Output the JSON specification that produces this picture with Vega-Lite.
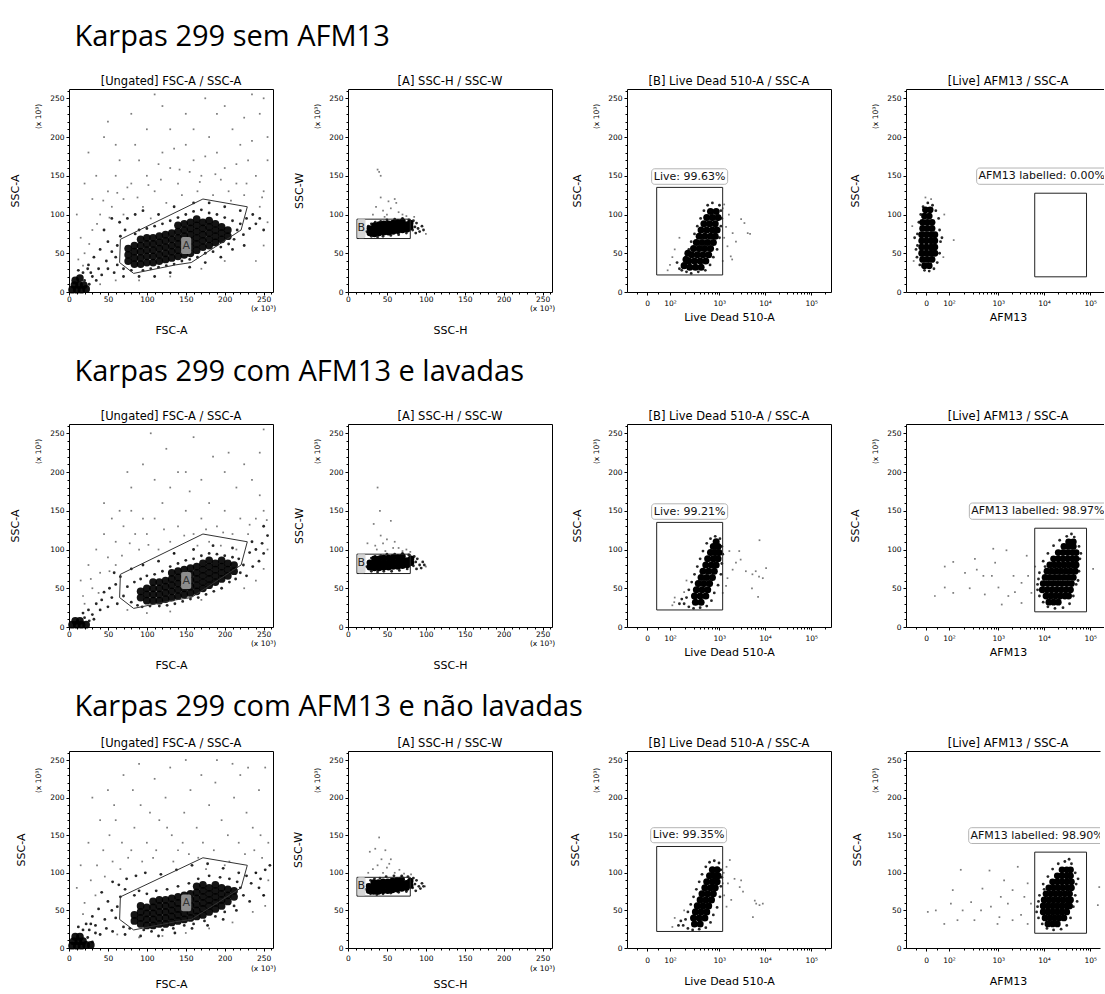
{"$schema":"https://vega.github.io/schema/vega-lite/v6.json","background":"white","padding":{"left":8,"top":23,"right":0,"bottom":0},
"config":{"view":{"stroke":"#000","strokeWidth":1},"axis":{"domain":false,"grid":false,"labelFont":"DejaVu Sans","titleFont":"DejaVu Sans","labelFontSize":7.5,"titleFontSize":11,"titleFontWeight":"normal","labelColor":"#000","titleColor":"#000","tickColor":"#000","labelFlush":false,"labelOverlap":false,"labelBound":false}},
"datasets":{
"gA":[{"x":66,"y":68,"o":1},{"x":172,"y":120,"o":2},{"x":229,"y":110,"o":3},{"x":221,"y":80,"o":4},{"x":157,"y":38,"o":5},{"x":137,"y":35,"o":6},{"x":83,"y":24,"o":7},{"x":65,"y":38,"o":8},{"x":66,"y":68,"o":9}],
"lA":[{"x1":144,"x2":157,"y1":49,"y2":71,"tx":150.5,"ty":60,"t":"A"}],
"gB":[{"x1":11.5,"x2":80,"y1":69,"y2":94}],
"lB":[{"x1":12,"x2":22.5,"y1":69.5,"y2":94.5,"tx":17,"ty":82,"t":"B"}],
"gL":[{"x1":1.717,"x2":3.118,"y1":22,"y2":135}],
"gF":[{"x1":3.82,"x2":4.92,"y1":19.6,"y2":127.5}],
"lL1":[{"x1":1.61,"x2":3.224,"y1":139,"y2":159,"tx":2.417,"ty":149,"t":"Live: 99.63%"}],
"lL2":[{"x1":1.61,"x2":3.224,"y1":139,"y2":159,"tx":2.417,"ty":149,"t":"Live: 99.21%"}],
"lL3":[{"x1":1.59,"x2":3.2,"y1":140,"y2":160,"tx":2.396,"ty":150,"t":"Live: 99.35%"}],
"lF1":[{"x1":2.587,"x2":5.6,"y1":139,"y2":160,"tx":2.625,"ty":149.5,"t":"AFM13 labelled: 0.00%"}],
"lF2":[{"x1":2.432,"x2":5.6,"y1":139,"y2":160,"tx":2.47,"ty":149.5,"t":"AFM13 labelled: 98.97%"}],
"lF3":[{"x1":2.418,"x2":5.6,"y1":139,"y2":160,"tx":2.455,"ty":149.5,"t":"AFM13 labelled: 98.90%"}],
"a1c":[{"x":76,"y":40},{"x":76,"y":48},{"x":76,"y":56},{"x":84,"y":36},{"x":84,"y":44},{"x":84,"y":52},{"x":84,"y":60},{"x":92,"y":36},{"x":92,"y":44},{"x":92,"y":52},{"x":92,"y":60},{"x":92,"y":68},{"x":100,"y":38},{"x":100,"y":46},{"x":100,"y":54},{"x":100,"y":62},{"x":100,"y":70},{"x":108,"y":38},{"x":108,"y":46},{"x":108,"y":54},{"x":108,"y":62},{"x":108,"y":70},{"x":116,"y":40},{"x":116,"y":48},{"x":116,"y":56},{"x":116,"y":64},{"x":116,"y":72},{"x":124,"y":42},{"x":124,"y":50},{"x":124,"y":58},{"x":124,"y":66},{"x":124,"y":74},{"x":132,"y":44},{"x":132,"y":52},{"x":132,"y":60},{"x":132,"y":68},{"x":132,"y":76},{"x":140,"y":46},{"x":140,"y":54},{"x":140,"y":62},{"x":140,"y":70},{"x":140,"y":78},{"x":140,"y":86},{"x":148,"y":48},{"x":148,"y":56},{"x":148,"y":64},{"x":148,"y":72},{"x":148,"y":80},{"x":148,"y":88},{"x":156,"y":50},{"x":156,"y":58},{"x":156,"y":66},{"x":156,"y":74},{"x":156,"y":82},{"x":156,"y":90},{"x":164,"y":54},{"x":164,"y":62},{"x":164,"y":70},{"x":164,"y":78},{"x":164,"y":86},{"x":164,"y":94},{"x":172,"y":58},{"x":172,"y":66},{"x":172,"y":74},{"x":172,"y":82},{"x":172,"y":90},{"x":180,"y":60},{"x":180,"y":68},{"x":180,"y":76},{"x":180,"y":84},{"x":180,"y":92},{"x":188,"y":64},{"x":188,"y":72},{"x":188,"y":80},{"x":188,"y":88},{"x":196,"y":68},{"x":196,"y":76},{"x":196,"y":84},{"x":204,"y":72},{"x":204,"y":80},{"x":4,"y":3},{"x":10,"y":3},{"x":16,"y":3},{"x":22,"y":4},{"x":7,"y":9},{"x":13,"y":9},{"x":19,"y":9},{"x":8,"y":15},{"x":14,"y":18}],
"a1m":[{"x":60,"y":45},{"x":62,"y":60},{"x":66,"y":72},{"x":70,"y":30},{"x":72,"y":80},{"x":80,"y":28},{"x":85,"y":75},{"x":90,"y":80},{"x":95,"y":28},{"x":100,"y":82},{"x":105,"y":30},{"x":110,"y":85},{"x":115,"y":32},{"x":120,"y":88},{"x":125,"y":34},{"x":130,"y":92},{"x":135,"y":36},{"x":140,"y":96},{"x":145,"y":40},{"x":150,"y":100},{"x":155,"y":42},{"x":160,"y":104},{"x":165,"y":45},{"x":170,"y":106},{"x":175,"y":50},{"x":180,"y":102},{"x":185,"y":52},{"x":190,"y":100},{"x":195,"y":58},{"x":200,"y":96},{"x":205,"y":62},{"x":210,"y":92},{"x":212,"y":68},{"x":216,"y":80},{"x":220,"y":88},{"x":224,"y":74},{"x":228,"y":95},{"x":232,"y":82},{"x":236,"y":100},{"x":240,"y":88},{"x":62,"y":35},{"x":55,"y":52},{"x":50,"y":65},{"x":48,"y":40},{"x":45,"y":80},{"x":40,"y":55},{"x":38,"y":30},{"x":32,"y":45},{"x":28,"y":25},{"x":25,"y":35},{"x":35,"y":15},{"x":42,"y":22},{"x":50,"y":30},{"x":58,"y":25},{"x":65,"y":90},{"x":75,"y":95},{"x":55,"y":95},{"x":85,"y":100},{"x":95,"y":105},{"x":115,"y":100},{"x":135,"y":110},{"x":160,"y":115},{"x":180,"y":115},{"x":200,"y":110},{"x":220,"y":105},{"x":245,"y":95},{"x":250,"y":80},{"x":225,"y":60},{"x":210,"y":55},{"x":195,"y":45},{"x":175,"y":38},{"x":155,"y":32},{"x":130,"y":25},{"x":110,"y":20},{"x":90,"y":20},{"x":70,"y":20},{"x":20,"y":15},{"x":26,"y":10},{"x":30,"y":20},{"x":18,"y":25},{"x":12,"y":28},{"x":24,"y":30}],
"a1s":[{"x":20,"y":50},{"x":30,"y":80},{"x":40,"y":100},{"x":50,"y":130},{"x":60,"y":150},{"x":70,"y":120},{"x":80,"y":140},{"x":90,"y":170},{"x":100,"y":150},{"x":110,"y":130},{"x":120,"y":180},{"x":130,"y":160},{"x":140,"y":140},{"x":150,"y":190},{"x":160,"y":170},{"x":170,"y":150},{"x":180,"y":200},{"x":190,"y":180},{"x":200,"y":160},{"x":210,"y":210},{"x":220,"y":190},{"x":230,"y":170},{"x":240,"y":150},{"x":250,"y":130},{"x":255,"y":200},{"x":245,"y":230},{"x":200,"y":240},{"x":150,"y":230},{"x":100,"y":210},{"x":60,"y":190},{"x":30,"y":120},{"x":15,"y":70},{"x":120,"y":240},{"x":175,"y":250},{"x":235,"y":255},{"x":80,"y":230},{"x":130,"y":210},{"x":190,"y":230},{"x":215,"y":140},{"x":245,"y":110},{"x":255,"y":90},{"x":250,"y":60},{"x":240,"y":40},{"x":200,"y":40},{"x":170,"y":30},{"x":130,"y":20},{"x":90,"y":15},{"x":60,"y":15},{"x":40,"y":10},{"x":70,"y":100},{"x":95,"y":110},{"x":105,"y":95},{"x":125,"y":115},{"x":145,"y":125},{"x":165,"y":130},{"x":185,"y":125},{"x":205,"y":130},{"x":225,"y":125},{"x":35,"y":150},{"x":55,"y":110},{"x":65,"y":170},{"x":85,"y":190},{"x":115,"y":165},{"x":135,"y":185},{"x":155,"y":155},{"x":175,"y":175},{"x":195,"y":145},{"x":215,"y":165},{"x":235,"y":195},{"x":255,"y":170},{"x":250,"y":250},{"x":50,"y":220},{"x":25,"y":180},{"x":10,"y":100},{"x":20,"y":140},{"x":45,"y":200},{"x":110,"y":255},{"x":160,"y":210},{"x":225,"y":225},{"x":75,"y":135},{"x":88,"y":122},{"x":102,"y":138},{"x":118,"y":145},{"x":142,"y":158},{"x":168,"y":142},{"x":188,"y":152},{"x":208,"y":118},{"x":228,"y":140},{"x":248,"y":122},{"x":62,"y":128},{"x":44,"y":118},{"x":36,"y":88},{"x":52,"y":96},{"x":26,"y":62},{"x":12,"y":42},{"x":18,"y":34}],
"a2c":[{"x":92,"y":38},{"x":92,"y":46},{"x":100,"y":34},{"x":100,"y":42},{"x":100,"y":50},{"x":108,"y":34},{"x":108,"y":42},{"x":108,"y":50},{"x":108,"y":58},{"x":116,"y":34},{"x":116,"y":42},{"x":116,"y":50},{"x":116,"y":58},{"x":124,"y":36},{"x":124,"y":44},{"x":124,"y":52},{"x":124,"y":60},{"x":132,"y":38},{"x":132,"y":46},{"x":132,"y":54},{"x":132,"y":62},{"x":132,"y":70},{"x":140,"y":40},{"x":140,"y":48},{"x":140,"y":56},{"x":140,"y":64},{"x":140,"y":72},{"x":148,"y":42},{"x":148,"y":50},{"x":148,"y":58},{"x":148,"y":66},{"x":148,"y":74},{"x":156,"y":44},{"x":156,"y":52},{"x":156,"y":60},{"x":156,"y":68},{"x":156,"y":76},{"x":164,"y":46},{"x":164,"y":54},{"x":164,"y":62},{"x":164,"y":70},{"x":164,"y":78},{"x":172,"y":50},{"x":172,"y":58},{"x":172,"y":66},{"x":172,"y":74},{"x":172,"y":82},{"x":180,"y":54},{"x":180,"y":62},{"x":180,"y":70},{"x":180,"y":78},{"x":180,"y":86},{"x":188,"y":58},{"x":188,"y":66},{"x":188,"y":74},{"x":188,"y":82},{"x":196,"y":62},{"x":196,"y":70},{"x":196,"y":78},{"x":196,"y":86},{"x":204,"y":66},{"x":204,"y":74},{"x":204,"y":82},{"x":212,"y":72},{"x":212,"y":80},{"x":4,"y":3},{"x":10,"y":3},{"x":16,"y":3},{"x":22,"y":3},{"x":8,"y":8},{"x":14,"y":8}],
"a2m":[{"x":70,"y":40},{"x":75,"y":52},{"x":80,"y":32},{"x":84,"y":58},{"x":88,"y":28},{"x":92,"y":62},{"x":100,"y":66},{"x":110,"y":68},{"x":120,"y":72},{"x":130,"y":78},{"x":140,"y":82},{"x":150,"y":86},{"x":160,"y":88},{"x":170,"y":92},{"x":180,"y":95},{"x":190,"y":94},{"x":200,"y":92},{"x":210,"y":90},{"x":218,"y":88},{"x":224,"y":80},{"x":220,"y":70},{"x":214,"y":62},{"x":206,"y":58},{"x":196,"y":50},{"x":186,"y":46},{"x":176,"y":42},{"x":166,"y":38},{"x":156,"y":36},{"x":146,"y":33},{"x":136,"y":30},{"x":126,"y":28},{"x":116,"y":27},{"x":104,"y":27},{"x":94,"y":26},{"x":62,"y":30},{"x":55,"y":38},{"x":50,"y":26},{"x":45,"y":45},{"x":40,"y":22},{"x":35,"y":30},{"x":30,"y":16},{"x":25,"y":22},{"x":232,"y":96},{"x":240,"y":100},{"x":248,"y":108},{"x":255,"y":118},{"x":250,"y":95},{"x":244,"y":85},{"x":236,"y":78},{"x":228,"y":66},{"x":60,"y":55},{"x":52,"y":50},{"x":42,"y":35},{"x":66,"y":65},{"x":58,"y":70},{"x":80,"y":75},{"x":95,"y":80},{"x":115,"y":85},{"x":135,"y":95},{"x":160,"y":100},{"x":185,"y":105},{"x":210,"y":102},{"x":235,"y":110},{"x":250,"y":130},{"x":20,"y":12},{"x":26,"y":8},{"x":32,"y":10},{"x":18,"y":18}],
"a2s":[{"x":20,"y":30},{"x":30,"y":50},{"x":40,"y":70},{"x":50,"y":90},{"x":60,"y":110},{"x":70,"y":130},{"x":80,"y":150},{"x":90,"y":100},{"x":100,"y":120},{"x":110,"y":140},{"x":120,"y":160},{"x":130,"y":110},{"x":140,"y":130},{"x":150,"y":150},{"x":160,"y":120},{"x":170,"y":140},{"x":180,"y":160},{"x":190,"y":130},{"x":200,"y":150},{"x":210,"y":120},{"x":220,"y":140},{"x":230,"y":120},{"x":240,"y":140},{"x":250,"y":150},{"x":255,"y":100},{"x":245,"y":170},{"x":235,"y":190},{"x":225,"y":210},{"x":215,"y":180},{"x":200,"y":200},{"x":185,"y":220},{"x":170,"y":190},{"x":155,"y":175},{"x":140,"y":200},{"x":125,"y":230},{"x":110,"y":190},{"x":95,"y":210},{"x":80,"y":180},{"x":65,"y":150},{"x":55,"y":140},{"x":45,"y":160},{"x":35,"y":100},{"x":25,"y":80},{"x":15,"y":60},{"x":105,"y":250},{"x":160,"y":245},{"x":205,"y":225},{"x":250,"y":255},{"x":75,"y":200},{"x":130,"y":180},{"x":180,"y":110},{"x":195,"y":105},{"x":95,"y":140},{"x":150,"y":200},{"x":245,"y":225},{"x":60,"y":80},{"x":45,"y":120},{"x":85,"y":120},{"x":115,"y":100},{"x":135,"y":95},{"x":165,"y":105},{"x":215,"y":100},{"x":240,"y":60},{"x":250,"y":75},{"x":225,"y":50},{"x":170,"y":35},{"x":130,"y":20},{"x":100,"y":18},{"x":75,"y":22},{"x":28,"y":62},{"x":38,"y":44},{"x":52,"y":72},{"x":68,"y":92},{"x":78,"y":108},{"x":102,"y":106},{"x":122,"y":126},{"x":148,"y":118},{"x":176,"y":126},{"x":198,"y":122},{"x":232,"y":132},{"x":254,"y":138},{"x":18,"y":40}],
"a3c":[{"x":84,"y":36},{"x":84,"y":44},{"x":92,"y":32},{"x":92,"y":40},{"x":92,"y":48},{"x":92,"y":56},{"x":100,"y":30},{"x":100,"y":38},{"x":100,"y":46},{"x":100,"y":54},{"x":108,"y":30},{"x":108,"y":38},{"x":108,"y":46},{"x":108,"y":54},{"x":108,"y":62},{"x":116,"y":32},{"x":116,"y":40},{"x":116,"y":48},{"x":116,"y":56},{"x":116,"y":64},{"x":124,"y":32},{"x":124,"y":40},{"x":124,"y":48},{"x":124,"y":56},{"x":124,"y":64},{"x":132,"y":34},{"x":132,"y":42},{"x":132,"y":50},{"x":132,"y":58},{"x":132,"y":66},{"x":140,"y":36},{"x":140,"y":44},{"x":140,"y":52},{"x":140,"y":60},{"x":140,"y":68},{"x":148,"y":38},{"x":148,"y":46},{"x":148,"y":54},{"x":148,"y":62},{"x":148,"y":70},{"x":156,"y":40},{"x":156,"y":48},{"x":156,"y":56},{"x":156,"y":64},{"x":156,"y":72},{"x":164,"y":42},{"x":164,"y":50},{"x":164,"y":58},{"x":164,"y":66},{"x":164,"y":74},{"x":164,"y":82},{"x":172,"y":44},{"x":172,"y":52},{"x":172,"y":60},{"x":172,"y":68},{"x":172,"y":76},{"x":172,"y":84},{"x":180,"y":48},{"x":180,"y":56},{"x":180,"y":64},{"x":180,"y":72},{"x":180,"y":80},{"x":188,"y":52},{"x":188,"y":60},{"x":188,"y":68},{"x":188,"y":76},{"x":188,"y":84},{"x":196,"y":56},{"x":196,"y":64},{"x":196,"y":72},{"x":196,"y":80},{"x":204,"y":62},{"x":204,"y":70},{"x":204,"y":78},{"x":212,"y":68},{"x":212,"y":76},{"x":4,"y":3},{"x":10,"y":3},{"x":16,"y":3},{"x":22,"y":4},{"x":28,"y":4},{"x":6,"y":9},{"x":12,"y":9},{"x":18,"y":9},{"x":8,"y":15},{"x":14,"y":15}],
"a3m":[{"x":60,"y":40},{"x":62,"y":55},{"x":66,"y":68},{"x":70,"y":28},{"x":72,"y":78},{"x":78,"y":26},{"x":84,"y":70},{"x":90,"y":76},{"x":96,"y":24},{"x":100,"y":72},{"x":106,"y":22},{"x":112,"y":76},{"x":120,"y":24},{"x":126,"y":78},{"x":134,"y":26},{"x":140,"y":82},{"x":148,"y":30},{"x":154,"y":86},{"x":160,"y":32},{"x":166,"y":92},{"x":174,"y":36},{"x":180,"y":96},{"x":188,"y":42},{"x":194,"y":94},{"x":200,"y":48},{"x":206,"y":92},{"x":212,"y":56},{"x":216,"y":88},{"x":220,"y":80},{"x":224,"y":70},{"x":228,"y":96},{"x":234,"y":86},{"x":240,"y":100},{"x":246,"y":92},{"x":252,"y":104},{"x":258,"y":110},{"x":55,"y":50},{"x":50,"y":62},{"x":46,"y":38},{"x":42,"y":74},{"x":38,"y":52},{"x":34,"y":30},{"x":30,"y":42},{"x":26,"y":24},{"x":22,"y":32},{"x":40,"y":18},{"x":48,"y":26},{"x":56,"y":22},{"x":64,"y":84},{"x":74,"y":92},{"x":56,"y":88},{"x":86,"y":96},{"x":98,"y":100},{"x":118,"y":98},{"x":138,"y":104},{"x":158,"y":110},{"x":178,"y":112},{"x":198,"y":106},{"x":218,"y":100},{"x":244,"y":80},{"x":250,"y":70},{"x":232,"y":62},{"x":215,"y":50},{"x":198,"y":38},{"x":178,"y":30},{"x":158,"y":26},{"x":136,"y":20},{"x":115,"y":16},{"x":92,"y":16},{"x":72,"y":18},{"x":24,"y":14},{"x":30,"y":8},{"x":34,"y":20},{"x":18,"y":24},{"x":12,"y":28},{"x":28,"y":32}],
"a3s":[{"x":20,"y":60},{"x":28,"y":90},{"x":36,"y":110},{"x":44,"y":130},{"x":52,"y":150},{"x":60,"y":170},{"x":68,"y":140},{"x":76,"y":120},{"x":84,"y":160},{"x":92,"y":190},{"x":100,"y":140},{"x":108,"y":120},{"x":116,"y":170},{"x":124,"y":200},{"x":132,"y":150},{"x":140,"y":130},{"x":148,"y":180},{"x":156,"y":210},{"x":164,"y":160},{"x":172,"y":140},{"x":180,"y":190},{"x":188,"y":220},{"x":196,"y":170},{"x":204,"y":150},{"x":212,"y":200},{"x":220,"y":230},{"x":228,"y":180},{"x":236,"y":160},{"x":244,"y":210},{"x":252,"y":240},{"x":256,"y":140},{"x":248,"y":120},{"x":240,"y":100},{"x":250,"y":70},{"x":256,"y":90},{"x":30,"y":200},{"x":50,"y":210},{"x":70,"y":230},{"x":90,"y":245},{"x":110,"y":225},{"x":130,"y":240},{"x":150,"y":250},{"x":170,"y":230},{"x":190,"y":250},{"x":210,"y":245},{"x":230,"y":240},{"x":15,"y":110},{"x":25,"y":140},{"x":40,"y":170},{"x":58,"y":190},{"x":82,"y":210},{"x":104,"y":180},{"x":126,"y":160},{"x":146,"y":140},{"x":166,"y":120},{"x":186,"y":130},{"x":206,"y":115},{"x":226,"y":125},{"x":246,"y":150},{"x":10,"y":80},{"x":18,"y":45},{"x":34,"y":70},{"x":46,"y":95},{"x":56,"y":115},{"x":66,"y":105},{"x":80,"y":130},{"x":94,"y":115},{"x":112,"y":130},{"x":134,"y":115},{"x":154,"y":125},{"x":176,"y":105},{"x":200,"y":110},{"x":218,"y":140},{"x":238,"y":130},{"x":62,"y":18},{"x":90,"y":14},{"x":120,"y":16},{"x":150,"y":20},{"x":180,"y":26},{"x":210,"y":34},{"x":236,"y":48},{"x":252,"y":56}],
"b1c":[{"x":28,"y":76},{"x":28,"y":82},{"x":34,"y":75},{"x":34,"y":81},{"x":34,"y":86},{"x":40,"y":76},{"x":40,"y":82},{"x":40,"y":87},{"x":46,"y":77},{"x":46,"y":83},{"x":46,"y":88},{"x":52,"y":77},{"x":52,"y":83},{"x":52,"y":88},{"x":58,"y":78},{"x":58,"y":84},{"x":58,"y":89},{"x":64,"y":79},{"x":64,"y":85},{"x":64,"y":90},{"x":70,"y":80},{"x":70,"y":86},{"x":70,"y":91},{"x":76,"y":81},{"x":76,"y":87},{"x":80,"y":84},{"x":80,"y":89}],
"b1m":[{"x":24,"y":78},{"x":26,"y":85},{"x":30,"y":72},{"x":38,"y":71},{"x":45,"y":72},{"x":55,"y":73},{"x":65,"y":74},{"x":75,"y":76},{"x":83,"y":80},{"x":86,"y":84},{"x":88,"y":89},{"x":90,"y":82},{"x":84,"y":92},{"x":78,"y":93},{"x":70,"y":95},{"x":60,"y":94},{"x":50,"y":93},{"x":42,"y":91},{"x":35,"y":90},{"x":30,"y":88},{"x":92,"y":78},{"x":95,"y":85},{"x":97,"y":80},{"x":87,"y":76}],
"b1s":[{"x":40,"y":155},{"x":42,"y":150},{"x":38,"y":158},{"x":42,"y":122},{"x":52,"y":117},{"x":60,"y":120},{"x":36,"y":110},{"x":45,"y":105},{"x":55,"y":108},{"x":65,"y":103},{"x":70,"y":100},{"x":50,"y":100},{"x":32,"y":100},{"x":75,"y":98},{"x":85,"y":97},{"x":100,"y":75},{"x":62,"y":115},{"x":47,"y":97}],
"b2c":[{"x":28,"y":77},{"x":28,"y":83},{"x":34,"y":76},{"x":34,"y":82},{"x":34,"y":88},{"x":40,"y":76},{"x":40,"y":82},{"x":40,"y":88},{"x":46,"y":77},{"x":46,"y":83},{"x":46,"y":89},{"x":52,"y":77},{"x":52,"y":83},{"x":52,"y":89},{"x":58,"y":78},{"x":58,"y":84},{"x":58,"y":90},{"x":64,"y":78},{"x":64,"y":84},{"x":64,"y":90},{"x":70,"y":79},{"x":70,"y":85},{"x":70,"y":91},{"x":76,"y":80},{"x":76,"y":86},{"x":81,"y":83},{"x":81,"y":88}],
"b2m":[{"x":24,"y":78},{"x":26,"y":84},{"x":30,"y":72},{"x":38,"y":71},{"x":46,"y":72},{"x":56,"y":72},{"x":66,"y":73},{"x":76,"y":75},{"x":84,"y":79},{"x":87,"y":84},{"x":89,"y":88},{"x":92,"y":80},{"x":85,"y":91},{"x":78,"y":93},{"x":70,"y":95},{"x":60,"y":94},{"x":50,"y":94},{"x":42,"y":92},{"x":35,"y":91},{"x":30,"y":89},{"x":94,"y":76},{"x":96,"y":84},{"x":98,"y":80},{"x":88,"y":75}],
"b2s":[{"x":38,"y":180},{"x":41,"y":150},{"x":55,"y":137},{"x":33,"y":133},{"x":42,"y":118},{"x":50,"y":113},{"x":45,"y":108},{"x":58,"y":102},{"x":37,"y":100},{"x":65,"y":102},{"x":70,"y":98},{"x":75,"y":100},{"x":35,"y":105},{"x":25,"y":108},{"x":48,"y":98},{"x":80,"y":97},{"x":100,"y":78},{"x":60,"y":110}],
"b3c":[{"x":27,"y":76},{"x":27,"y":82},{"x":33,"y":75},{"x":33,"y":81},{"x":33,"y":87},{"x":39,"y":75},{"x":39,"y":81},{"x":39,"y":87},{"x":45,"y":76},{"x":45,"y":82},{"x":45,"y":88},{"x":51,"y":76},{"x":51,"y":82},{"x":51,"y":88},{"x":57,"y":77},{"x":57,"y":83},{"x":57,"y":89},{"x":63,"y":78},{"x":63,"y":84},{"x":63,"y":90},{"x":69,"y":79},{"x":69,"y":85},{"x":69,"y":91},{"x":75,"y":80},{"x":75,"y":86},{"x":80,"y":83},{"x":80,"y":89}],
"b3m":[{"x":23,"y":78},{"x":25,"y":84},{"x":29,"y":72},{"x":37,"y":71},{"x":45,"y":72},{"x":55,"y":73},{"x":65,"y":74},{"x":75,"y":75},{"x":83,"y":80},{"x":86,"y":85},{"x":88,"y":90},{"x":91,"y":82},{"x":84,"y":93},{"x":77,"y":95},{"x":69,"y":96},{"x":59,"y":96},{"x":49,"y":95},{"x":41,"y":93},{"x":34,"y":92},{"x":29,"y":90},{"x":93,"y":79},{"x":95,"y":86},{"x":97,"y":82},{"x":87,"y":76}],
"b3s":[{"x":40,"y":147},{"x":35,"y":132},{"x":48,"y":130},{"x":28,"y":128},{"x":43,"y":118},{"x":55,"y":118},{"x":38,"y":110},{"x":50,"y":107},{"x":32,"y":105},{"x":60,"y":100},{"x":45,"y":100},{"x":66,"y":104},{"x":72,"y":99},{"x":26,"y":100},{"x":53,"y":112},{"x":81,"y":98},{"x":99,"y":82}],
"c1c":[{"x":2.3,"y":34},{"x":2.34,"y":42},{"x":2.38,"y":50},{"x":2.42,"y":32},{"x":2.54,"y":32},{"x":2.66,"y":32},{"x":2.4,"y":40},{"x":2.52,"y":40},{"x":2.64,"y":40},{"x":2.76,"y":40},{"x":2.46,"y":48},{"x":2.58,"y":48},{"x":2.7,"y":48},{"x":2.82,"y":48},{"x":2.5,"y":56},{"x":2.62,"y":56},{"x":2.74,"y":56},{"x":2.86,"y":56},{"x":2.56,"y":64},{"x":2.68,"y":64},{"x":2.8,"y":64},{"x":2.92,"y":64},{"x":2.62,"y":72},{"x":2.74,"y":72},{"x":2.86,"y":72},{"x":2.96,"y":72},{"x":2.66,"y":80},{"x":2.78,"y":80},{"x":2.9,"y":80},{"x":3.0,"y":80},{"x":2.72,"y":88},{"x":2.84,"y":88},{"x":2.96,"y":88},{"x":2.78,"y":96},{"x":2.9,"y":96},{"x":3.02,"y":96},{"x":2.86,"y":104},{"x":2.98,"y":104}],
"c1m":[{"x":2.25,"y":28},{"x":2.3,"y":35},{"x":2.33,"y":45},{"x":2.4,"y":55},{"x":2.45,"y":65},{"x":2.52,"y":75},{"x":2.58,"y":85},{"x":2.65,"y":95},{"x":2.72,"y":105},{"x":2.8,"y":112},{"x":2.9,"y":115},{"x":3.05,"y":112},{"x":3.08,"y":105},{"x":3.1,"y":95},{"x":3.08,"y":85},{"x":3.05,"y":70},{"x":3.0,"y":55},{"x":2.92,"y":45},{"x":2.85,"y":35},{"x":2.75,"y":28},{"x":2.6,"y":26},{"x":2.45,"y":24},{"x":2.35,"y":26},{"x":2.2,"y":30},{"x":2.15,"y":38}],
"c1s":[{"x":3.19,"y":84},{"x":3.33,"y":76},{"x":3.51,"y":94},{"x":3.58,"y":89},{"x":3.65,"y":76},{"x":3.29,"y":46},{"x":3.32,"y":42},{"x":3.22,"y":59},{"x":3.15,"y":70},{"x":3.25,"y":100},{"x":3.12,"y":108},{"x":3.15,"y":113},{"x":3.7,"y":75},{"x":3.4,"y":65},{"x":2.0,"y":35},{"x":2.05,"y":45},{"x":1.95,"y":28},{"x":2.1,"y":55},{"x":2.2,"y":70},{"x":3.12,"y":40}],
"c2c":[{"x":2.54,"y":32},{"x":2.66,"y":32},{"x":2.52,"y":40},{"x":2.64,"y":40},{"x":2.76,"y":40},{"x":2.56,"y":48},{"x":2.68,"y":48},{"x":2.8,"y":48},{"x":2.6,"y":56},{"x":2.72,"y":56},{"x":2.84,"y":56},{"x":2.66,"y":64},{"x":2.78,"y":64},{"x":2.9,"y":64},{"x":2.7,"y":72},{"x":2.82,"y":72},{"x":2.94,"y":72},{"x":2.76,"y":80},{"x":2.88,"y":80},{"x":2.98,"y":80},{"x":2.8,"y":88},{"x":2.92,"y":88},{"x":3.02,"y":88},{"x":2.86,"y":96},{"x":2.96,"y":96},{"x":3.04,"y":96},{"x":2.92,"y":104},{"x":3.02,"y":104},{"x":2.98,"y":110}],
"c2m":[{"x":2.3,"y":30},{"x":2.35,"y":38},{"x":2.4,"y":48},{"x":2.46,"y":58},{"x":2.52,"y":68},{"x":2.58,"y":78},{"x":2.64,"y":88},{"x":2.7,"y":98},{"x":2.78,"y":108},{"x":2.86,"y":114},{"x":2.96,"y":117},{"x":3.06,"y":114},{"x":3.1,"y":104},{"x":3.12,"y":94},{"x":3.1,"y":82},{"x":3.08,"y":68},{"x":3.02,"y":54},{"x":2.94,"y":44},{"x":2.88,"y":34},{"x":2.78,"y":27},{"x":2.64,"y":25},{"x":2.5,"y":24},{"x":2.4,"y":26},{"x":2.25,"y":36},{"x":2.2,"y":30}],
"c2s":[{"x":3.26,"y":98},{"x":3.47,"y":98},{"x":3.5,"y":87},{"x":3.61,"y":72},{"x":3.75,"y":68},{"x":3.82,"y":72},{"x":3.89,"y":65},{"x":3.97,"y":63},{"x":4.04,"y":76},{"x":3.74,"y":50},{"x":3.87,"y":39},{"x":3.9,"y":112},{"x":3.33,"y":74},{"x":3.4,"y":83},{"x":3.22,"y":63},{"x":3.19,"y":53},{"x":3.12,"y":44},{"x":2.09,"y":32},{"x":2.05,"y":28},{"x":2.3,"y":45},{"x":2.35,"y":60},{"x":2.1,"y":38}],
"c3c":[{"x":2.52,"y":32},{"x":2.64,"y":32},{"x":2.5,"y":40},{"x":2.62,"y":40},{"x":2.74,"y":40},{"x":2.54,"y":48},{"x":2.66,"y":48},{"x":2.78,"y":48},{"x":2.58,"y":56},{"x":2.7,"y":56},{"x":2.82,"y":56},{"x":2.64,"y":64},{"x":2.76,"y":64},{"x":2.88,"y":64},{"x":2.68,"y":72},{"x":2.8,"y":72},{"x":2.92,"y":72},{"x":2.74,"y":80},{"x":2.86,"y":80},{"x":2.96,"y":80},{"x":2.78,"y":88},{"x":2.9,"y":88},{"x":3.0,"y":88},{"x":2.84,"y":96},{"x":2.94,"y":96},{"x":3.02,"y":96},{"x":2.9,"y":104},{"x":3.0,"y":104}],
"c3m":[{"x":2.28,"y":30},{"x":2.33,"y":38},{"x":2.38,"y":48},{"x":2.44,"y":58},{"x":2.5,"y":68},{"x":2.56,"y":78},{"x":2.62,"y":88},{"x":2.68,"y":98},{"x":2.76,"y":108},{"x":2.84,"y":114},{"x":2.94,"y":116},{"x":3.04,"y":113},{"x":3.08,"y":104},{"x":3.1,"y":94},{"x":3.08,"y":82},{"x":3.06,"y":68},{"x":3.0,"y":54},{"x":2.92,"y":44},{"x":2.86,"y":34},{"x":2.76,"y":27},{"x":2.62,"y":25},{"x":2.48,"y":24},{"x":2.38,"y":26},{"x":2.23,"y":36},{"x":2.18,"y":30}],
"c3s":[{"x":3.2,"y":108},{"x":3.27,"y":117},{"x":3.37,"y":92},{"x":3.48,"y":81},{"x":3.55,"y":75},{"x":3.23,"y":86},{"x":3.2,"y":55},{"x":3.8,"y":63},{"x":3.83,"y":59},{"x":3.9,"y":57},{"x":3.97,"y":59},{"x":3.76,"y":41},{"x":3.51,"y":90},{"x":3.12,"y":86},{"x":3.15,"y":70},{"x":3.3,"y":64},{"x":2.05,"y":28},{"x":2.1,"y":40},{"x":2.3,"y":50},{"x":3.14,"y":100}],
"d1c":[{"x":1.48,"y":34},{"x":1.58,"y":34},{"x":1.44,"y":42},{"x":1.54,"y":42},{"x":1.64,"y":42},{"x":1.42,"y":50},{"x":1.52,"y":50},{"x":1.62,"y":50},{"x":1.7,"y":50},{"x":1.42,"y":58},{"x":1.52,"y":58},{"x":1.62,"y":58},{"x":1.7,"y":58},{"x":1.42,"y":66},{"x":1.52,"y":66},{"x":1.62,"y":66},{"x":1.7,"y":66},{"x":1.42,"y":74},{"x":1.52,"y":74},{"x":1.62,"y":74},{"x":1.7,"y":74},{"x":1.44,"y":82},{"x":1.54,"y":82},{"x":1.64,"y":82},{"x":1.44,"y":90},{"x":1.54,"y":90},{"x":1.64,"y":90},{"x":1.48,"y":98},{"x":1.58,"y":98},{"x":1.5,"y":106},{"x":1.6,"y":106}],
"d1m":[{"x":1.32,"y":45},{"x":1.33,"y":60},{"x":1.33,"y":75},{"x":1.36,"y":90},{"x":1.4,"y":100},{"x":1.45,"y":110},{"x":1.55,"y":115},{"x":1.65,"y":112},{"x":1.72,"y":105},{"x":1.78,"y":95},{"x":1.8,"y":80},{"x":1.82,"y":65},{"x":1.8,"y":50},{"x":1.75,"y":38},{"x":1.68,"y":30},{"x":1.58,"y":27},{"x":1.48,"y":28},{"x":1.38,"y":35},{"x":1.3,"y":55},{"x":1.85,"y":70},{"x":1.27,"y":70}],
"d1s":[{"x":2.1,"y":67},{"x":1.9,"y":100},{"x":1.25,"y":40},{"x":1.22,"y":85},{"x":1.88,"y":45},{"x":1.5,"y":122},{"x":1.62,"y":120}],
"d2c":[{"x":4.12,"y":32},{"x":4.22,"y":32},{"x":4.32,"y":32},{"x":4.06,"y":40},{"x":4.16,"y":40},{"x":4.26,"y":40},{"x":4.36,"y":40},{"x":4.46,"y":40},{"x":4.54,"y":40},{"x":3.98,"y":48},{"x":4.08,"y":48},{"x":4.18,"y":48},{"x":4.28,"y":48},{"x":4.38,"y":48},{"x":4.48,"y":48},{"x":4.58,"y":48},{"x":4.0,"y":56},{"x":4.1,"y":56},{"x":4.2,"y":56},{"x":4.3,"y":56},{"x":4.4,"y":56},{"x":4.5,"y":56},{"x":4.6,"y":56},{"x":4.04,"y":64},{"x":4.14,"y":64},{"x":4.24,"y":64},{"x":4.34,"y":64},{"x":4.44,"y":64},{"x":4.54,"y":64},{"x":4.64,"y":64},{"x":4.08,"y":72},{"x":4.18,"y":72},{"x":4.28,"y":72},{"x":4.38,"y":72},{"x":4.48,"y":72},{"x":4.58,"y":72},{"x":4.68,"y":72},{"x":4.14,"y":80},{"x":4.24,"y":80},{"x":4.34,"y":80},{"x":4.44,"y":80},{"x":4.54,"y":80},{"x":4.64,"y":80},{"x":4.7,"y":80},{"x":4.22,"y":88},{"x":4.32,"y":88},{"x":4.42,"y":88},{"x":4.52,"y":88},{"x":4.62,"y":88},{"x":4.7,"y":88},{"x":4.32,"y":96},{"x":4.42,"y":96},{"x":4.52,"y":96},{"x":4.62,"y":96},{"x":4.7,"y":96},{"x":4.44,"y":104},{"x":4.54,"y":104},{"x":4.64,"y":104},{"x":4.54,"y":110},{"x":4.64,"y":110}],
"d2m":[{"x":3.92,"y":40},{"x":3.88,"y":55},{"x":3.92,"y":70},{"x":4.0,"y":85},{"x":4.1,"y":95},{"x":4.22,"y":105},{"x":4.35,"y":112},{"x":4.5,"y":117},{"x":4.66,"y":116},{"x":4.76,"y":104},{"x":4.78,"y":88},{"x":4.76,"y":72},{"x":4.7,"y":55},{"x":4.64,"y":40},{"x":4.56,"y":30},{"x":4.42,"y":25},{"x":4.25,"y":24},{"x":4.1,"y":26},{"x":4.0,"y":32},{"x":3.88,"y":48},{"x":3.9,"y":62},{"x":4.8,"y":95},{"x":4.6,"y":120},{"x":4.04,"y":78},{"x":4.74,"y":60}],
"d2s":[{"x":1.7,"y":40},{"x":1.91,"y":78},{"x":2.09,"y":84},{"x":1.91,"y":51},{"x":2.09,"y":44},{"x":2.34,"y":70},{"x":2.55,"y":88},{"x":2.59,"y":74},{"x":2.73,"y":66},{"x":2.94,"y":101},{"x":2.98,"y":83},{"x":3.05,"y":51},{"x":3.22,"y":99},{"x":3.26,"y":40},{"x":3.37,"y":66},{"x":3.4,"y":45},{"x":3.54,"y":57},{"x":3.65,"y":92},{"x":3.68,"y":66},{"x":3.75,"y":44},{"x":3.54,"y":31},{"x":3.83,"y":78},{"x":3.12,"y":29},{"x":2.76,"y":42},{"x":2.44,"y":50},{"x":2.91,"y":66},{"x":5.06,"y":75}],
"d3c":[{"x":4.1,"y":32},{"x":4.2,"y":32},{"x":4.3,"y":32},{"x":4.04,"y":40},{"x":4.14,"y":40},{"x":4.24,"y":40},{"x":4.34,"y":40},{"x":4.44,"y":40},{"x":4.0,"y":48},{"x":4.1,"y":48},{"x":4.2,"y":48},{"x":4.3,"y":48},{"x":4.4,"y":48},{"x":4.5,"y":48},{"x":4.0,"y":56},{"x":4.1,"y":56},{"x":4.2,"y":56},{"x":4.3,"y":56},{"x":4.4,"y":56},{"x":4.5,"y":56},{"x":4.56,"y":56},{"x":4.02,"y":64},{"x":4.12,"y":64},{"x":4.22,"y":64},{"x":4.32,"y":64},{"x":4.42,"y":64},{"x":4.52,"y":64},{"x":4.58,"y":64},{"x":4.06,"y":72},{"x":4.16,"y":72},{"x":4.26,"y":72},{"x":4.36,"y":72},{"x":4.46,"y":72},{"x":4.56,"y":72},{"x":4.12,"y":80},{"x":4.22,"y":80},{"x":4.32,"y":80},{"x":4.42,"y":80},{"x":4.52,"y":80},{"x":4.6,"y":80},{"x":4.2,"y":88},{"x":4.3,"y":88},{"x":4.4,"y":88},{"x":4.5,"y":88},{"x":4.6,"y":88},{"x":4.3,"y":96},{"x":4.4,"y":96},{"x":4.5,"y":96},{"x":4.58,"y":96},{"x":4.4,"y":104},{"x":4.5,"y":104},{"x":4.58,"y":104}],
"d3m":[{"x":3.9,"y":40},{"x":3.88,"y":55},{"x":3.92,"y":70},{"x":4.0,"y":85},{"x":4.1,"y":95},{"x":4.2,"y":105},{"x":4.32,"y":112},{"x":4.46,"y":115},{"x":4.6,"y":112},{"x":4.68,"y":100},{"x":4.7,"y":85},{"x":4.68,"y":70},{"x":4.64,"y":55},{"x":4.58,"y":40},{"x":4.5,"y":30},{"x":4.38,"y":25},{"x":4.22,"y":24},{"x":4.08,"y":26},{"x":3.98,"y":32},{"x":3.86,"y":48},{"x":3.9,"y":62},{"x":4.74,"y":92},{"x":4.55,"y":118},{"x":4.02,"y":78},{"x":4.72,"y":62}],
"d3s":[{"x":1.55,"y":48},{"x":1.72,"y":50},{"x":1.9,"y":32},{"x":2.04,"y":59},{"x":2.25,"y":104},{"x":2.08,"y":77},{"x":2.29,"y":50},{"x":2.47,"y":61},{"x":2.54,"y":37},{"x":2.71,"y":79},{"x":2.86,"y":103},{"x":2.89,"y":55},{"x":3.03,"y":32},{"x":3.07,"y":41},{"x":3.17,"y":90},{"x":3.25,"y":59},{"x":3.35,"y":77},{"x":3.46,"y":108},{"x":3.53,"y":44},{"x":3.6,"y":68},{"x":3.67,"y":86},{"x":3.74,"y":59},{"x":3.67,"y":32},{"x":3.1,"y":68},{"x":2.68,"y":50},{"x":3.35,"y":37},{"x":2.18,"y":37},{"x":5.16,"y":57},{"x":5.19,"y":81}]
},
"vconcat":[
{"title":{"text":"Karpas 299 sem AFM13","anchor":"start","font":"Open Sans","fontSize":29,"fontWeight":"normal","color":"#000","offset":-6,"dx":66,"baseline":"bottom"},"bounds":"flush","spacing":75,
"hconcat":[
{"width":204,"height":203,"title":{"text":"[Ungated] FSC-A / SSC-A","font":"DejaVu Sans","fontSize":11.5,"fontWeight":"normal","color":"#000","offset":-9,"baseline":"bottom","frame":"group"},
"layer":[
{"data":{"name":"a1s"},"mark":{"type":"square","size":3,"color":"#444"},"encoding":{"x":{"field":"x","type":"quantitative","scale":{"domain":[0,262],"nice":false,"zero":false},"axis":{"orient":"bottom","values":[0,50,100,150,200,250],"tickSize":3,"labelPadding":0,"title":"FSC-A","titleY":38,"titleBaseline":"middle"}},"y":{"field":"y","type":"quantitative","scale":{"domain":[0,262],"nice":false,"zero":false},"axis":{"orient":"left","values":[0,50,100,150,200,250],"tickSize":3,"labelPadding":2,"title":"SSC-A","titleX":-54,"titleY":101.5,"titleAngle":270,"titleAlign":"center","titleBaseline":"middle"}}}},
{"data":{"name":"a1m"},"mark":{"type":"circle","size":8,"color":"#000","opacity":0.85},"encoding":{"x":{"field":"x","type":"quantitative","axis":null},"y":{"field":"y","type":"quantitative","axis":null}}},
{"data":{"name":"a1c"},"mark":{"type":"circle","size":60,"color":"#000","opacity":0.92},"encoding":{"x":{"field":"x","type":"quantitative","axis":null},"y":{"field":"y","type":"quantitative","axis":null}}},
{"data":{"name":"gA"},"mark":{"type":"line","color":"#333","strokeWidth":1},"encoding":{"x":{"field":"x","type":"quantitative","axis":{"orient":"bottom","values":[10,20,30,40,60,70,80,90,110,120,130,140,160,170,180,190,210,220,230,240,260],"tickSize":2,"labels":false,"title":"(x 10³)","titleX":194,"titleY":16,"titleAlign":"center","titleBaseline":"middle","titleFontSize":7.5}},"y":{"field":"y","type":"quantitative","axis":{"orient":"left","values":[10,20,30,40,60,70,80,90,110,120,130,140,160,170,180,190,210,220,230,240,260],"tickSize":2,"labels":false,"title":"(x 10³)","titleX":-31,"titleY":27,"titleAngle":270,"titleAlign":"center","titleBaseline":"middle","titleFontSize":7.5}},"order":{"field":"o","type":"quantitative"}}},
{"data":{"name":"lA"},"mark":{"type":"rect","color":"#9a9a9a","opacity":0.9,"cornerRadius":2},"encoding":{"x":{"field":"x1","type":"quantitative","axis":null},"x2":{"field":"x2"},"y":{"field":"y1","type":"quantitative","axis":null},"y2":{"field":"y2"}}},
{"data":{"name":"lA"},"mark":{"type":"text","font":"DejaVu Sans","fontSize":11,"color":"#333","baseline":"middle"},"encoding":{"x":{"field":"tx","type":"quantitative","axis":null},"y":{"field":"ty","type":"quantitative","axis":null},"text":{"field":"t"}}}
],"resolve":{"axis":{"x":"independent","y":"independent"}}},
{"width":204,"height":203,"title":{"text":"[A] SSC-H / SSC-W","font":"DejaVu Sans","fontSize":11.5,"fontWeight":"normal","color":"#000","offset":-9,"baseline":"bottom","frame":"group"},
"layer":[
{"data":{"name":"b1s"},"mark":{"type":"square","size":3,"color":"#444"},"encoding":{"x":{"field":"x","type":"quantitative","scale":{"domain":[0,262],"nice":false,"zero":false},"axis":{"orient":"bottom","values":[0,50,100,150,200,250],"tickSize":3,"labelPadding":0,"title":"SSC-H","titleY":38,"titleBaseline":"middle"}},"y":{"field":"y","type":"quantitative","scale":{"domain":[0,262],"nice":false,"zero":false},"axis":{"orient":"left","values":[0,50,100,150,200,250],"tickSize":3,"labelPadding":2,"title":"SSC-W","titleX":-49,"titleY":101.5,"titleAngle":270,"titleAlign":"center","titleBaseline":"middle"}}}},
{"data":{"name":"b1m"},"mark":{"type":"circle","size":8,"color":"#000","opacity":0.85},"encoding":{"x":{"field":"x","type":"quantitative","axis":null},"y":{"field":"y","type":"quantitative","axis":null}}},
{"data":{"name":"b1c"},"mark":{"type":"circle","size":42,"color":"#000","opacity":1},"encoding":{"x":{"field":"x","type":"quantitative","axis":null},"y":{"field":"y","type":"quantitative","axis":null}}},
{"data":{"name":"gB"},"mark":{"type":"rect","fillOpacity":0,"stroke":"#222","strokeWidth":1},"encoding":{"x":{"field":"x1","type":"quantitative","axis":{"orient":"bottom","values":[10,20,30,40,60,70,80,90,110,120,130,140,160,170,180,190,210,220,230,240,260],"tickSize":2,"labels":false,"title":"(x 10³)","titleX":194,"titleY":16,"titleAlign":"center","titleBaseline":"middle","titleFontSize":7.5}},"x2":{"field":"x2"},"y":{"field":"y1","type":"quantitative","axis":{"orient":"left","values":[10,20,30,40,60,70,80,90,110,120,130,140,160,170,180,190,210,220,230,240,260],"tickSize":2,"labels":false,"title":"(x 10³)","titleX":-31,"titleY":27,"titleAngle":270,"titleAlign":"center","titleBaseline":"middle","titleFontSize":7.5}},"y2":{"field":"y2"}}},
{"data":{"name":"lB"},"mark":{"type":"rect","color":"#cfcfcf","opacity":0.85,"cornerRadius":2},"encoding":{"x":{"field":"x1","type":"quantitative","axis":null},"x2":{"field":"x2"},"y":{"field":"y1","type":"quantitative","axis":null},"y2":{"field":"y2"}}},
{"data":{"name":"lB"},"mark":{"type":"text","font":"DejaVu Sans","fontSize":11,"color":"#222","baseline":"middle"},"encoding":{"x":{"field":"tx","type":"quantitative","axis":null},"y":{"field":"ty","type":"quantitative","axis":null},"text":{"field":"t"}}}
],"resolve":{"axis":{"x":"independent","y":"independent"}}},
{"width":204,"height":203,"title":{"text":"[B] Live Dead 510-A / SSC-A","font":"DejaVu Sans","fontSize":11.5,"fontWeight":"normal","color":"#000","offset":-9,"baseline":"bottom","frame":"group"},
"layer":[
{"data":{"name":"c1s"},"mark":{"type":"square","size":3,"color":"#444"},"encoding":{"x":{"field":"x","type":"quantitative","scale":{"domain":[1.087,5.418],"nice":false,"zero":false},"axis":{"orient":"bottom","values":[1.515,2,3.047,4.017,5],"labelExpr":"datum.value < 1.8 ? '0' : datum.value < 2.5 ? '10²' : datum.value < 3.5 ? '10³' : datum.value < 4.5 ? '10⁴' : '10⁵'","tickSize":3,"labelPadding":4,"title":"Live Dead 510-A","titleY":25,"titleBaseline":"middle"}},"y":{"field":"y","type":"quantitative","scale":{"domain":[0,262],"nice":false,"zero":false},"axis":{"orient":"left","values":[0,50,100,150,200,250],"tickSize":3,"labelPadding":2,"title":"SSC-A","titleX":-50,"titleY":101.5,"titleAngle":270,"titleAlign":"center","titleBaseline":"middle"}}}},
{"data":{"name":"c1m"},"mark":{"type":"circle","size":8,"color":"#000","opacity":0.85},"encoding":{"x":{"field":"x","type":"quantitative","axis":null},"y":{"field":"y","type":"quantitative","axis":null}}},
{"data":{"name":"c1c"},"mark":{"type":"circle","size":50,"color":"#000","opacity":1},"encoding":{"x":{"field":"x","type":"quantitative","axis":null},"y":{"field":"y","type":"quantitative","axis":null}}},
{"data":{"name":"gL"},"mark":{"type":"rect","fillOpacity":0,"stroke":"#222","strokeWidth":1},"encoding":{"x":{"field":"x1","type":"quantitative","axis":{"orient":"bottom","values":[1.293,1.752,2.315,2.499,2.63,2.732,2.815,2.885,2.946,2.999,3.339,3.51,3.631,3.725,3.802,3.867,3.923,3.972,4.313,4.486,4.609,4.704,4.782,4.848,4.905,4.955,5.296],"tickSize":2,"labels":false,"title":null}},"x2":{"field":"x2"},"y":{"field":"y1","type":"quantitative","axis":{"orient":"left","values":[10,20,30,40,60,70,80,90,110,120,130,140,160,170,180,190,210,220,230,240,260],"tickSize":2,"labels":false,"title":"(x 10³)","titleX":-31,"titleY":27,"titleAngle":270,"titleAlign":"center","titleBaseline":"middle","titleFontSize":7.5}},"y2":{"field":"y2"}}},
{"data":{"name":"lL1"},"mark":{"type":"rect","fill":"#fff","stroke":"#b4b4b4","strokeWidth":1,"cornerRadius":3},"encoding":{"x":{"field":"x1","type":"quantitative","axis":null},"x2":{"field":"x2"},"y":{"field":"y1","type":"quantitative","axis":null},"y2":{"field":"y2"}}},
{"data":{"name":"lL1"},"mark":{"type":"text","font":"DejaVu Sans","fontSize":11,"color":"#111","baseline":"middle"},"encoding":{"x":{"field":"tx","type":"quantitative","axis":null},"y":{"field":"ty","type":"quantitative","axis":null},"text":{"field":"t"}}}
],"resolve":{"axis":{"x":"independent","y":"independent"}}},
{"width":198,"height":203,"view":{"stroke":null},"title":{"text":"[Live] AFM13 / SSC-A","font":"DejaVu Sans","fontSize":11.5,"fontWeight":"normal","color":"#000","offset":-9,"baseline":"bottom","frame":"group","dx":3},
"layer":[
{"data":{"name":"d1s"},"mark":{"type":"square","size":3,"color":"#444"},"encoding":{"x":{"field":"x","type":"quantitative","scale":{"domain":[1.087,5.291],"nice":false,"zero":false},"axis":{"orient":"bottom","domain":true,"domainColor":"#000","values":[1.515,2,3.047,4.017,5],"labelExpr":"datum.value < 1.8 ? '0' : datum.value < 2.5 ? '10²' : datum.value < 3.5 ? '10³' : datum.value < 4.5 ? '10⁴' : '10⁵'","tickSize":3,"labelPadding":4,"title":"AFM13","titleX":102,"titleY":25,"titleBaseline":"middle"}},"y":{"field":"y","type":"quantitative","scale":{"domain":[0,262],"nice":false,"zero":false},"axis":{"orient":"left","domain":true,"domainColor":"#000","values":[0,50,100,150,200,250],"tickSize":3,"labelPadding":2,"title":"SSC-A","titleX":-51,"titleY":101.5,"titleAngle":270,"titleAlign":"center","titleBaseline":"middle"}}}},
{"data":{"name":"d1m"},"mark":{"type":"circle","size":8,"color":"#000","opacity":0.85},"encoding":{"x":{"field":"x","type":"quantitative","axis":{"orient":"top","domain":true,"domainColor":"#000","ticks":false,"labels":false,"title":null}},"y":{"field":"y","type":"quantitative","axis":null}}},
{"data":{"name":"d1c"},"mark":{"type":"circle","size":46,"color":"#000","opacity":1},"encoding":{"x":{"field":"x","type":"quantitative","axis":null},"y":{"field":"y","type":"quantitative","axis":null}}},
{"data":{"name":"gF"},"mark":{"type":"rect","fillOpacity":0,"stroke":"#222","strokeWidth":1},"encoding":{"x":{"field":"x1","type":"quantitative","axis":{"orient":"bottom","values":[1.293,1.752,2.315,2.499,2.63,2.732,2.815,2.885,2.946,2.999,3.339,3.51,3.631,3.725,3.802,3.867,3.923,3.972,4.313,4.486,4.609,4.704,4.782,4.848,4.905,4.955],"tickSize":2,"labels":false,"title":null}},"x2":{"field":"x2"},"y":{"field":"y1","type":"quantitative","axis":{"orient":"left","values":[10,20,30,40,60,70,80,90,110,120,130,140,160,170,180,190,210,220,230,240,260],"tickSize":2,"labels":false,"title":"(x 10³)","titleX":-31,"titleY":27,"titleAngle":270,"titleAlign":"center","titleBaseline":"middle","titleFontSize":7.5}},"y2":{"field":"y2"}}},
{"data":{"name":"lF1"},"mark":{"type":"rect","fill":"#fff","stroke":"#b4b4b4","strokeWidth":1,"cornerRadius":3,"clip":true},"encoding":{"x":{"field":"x1","type":"quantitative","axis":null},"x2":{"field":"x2"},"y":{"field":"y1","type":"quantitative","axis":null},"y2":{"field":"y2"}}},
{"data":{"name":"lF1"},"mark":{"type":"text","font":"DejaVu Sans","fontSize":11,"color":"#111","baseline":"middle","align":"left","clip":true},"encoding":{"x":{"field":"tx","type":"quantitative","axis":null},"y":{"field":"ty","type":"quantitative","axis":null},"text":{"field":"t"}}}
],"resolve":{"axis":{"x":"independent","y":"independent"}}}
]},
{"title":{"text":"Karpas 299 com AFM13 e lavadas","anchor":"start","font":"Open Sans","fontSize":29,"fontWeight":"normal","color":"#000","offset":-6,"dx":66,"baseline":"bottom"},"bounds":"flush","spacing":75,
"hconcat":[
{"width":204,"height":203,"title":{"text":"[Ungated] FSC-A / SSC-A","font":"DejaVu Sans","fontSize":11.5,"fontWeight":"normal","color":"#000","offset":-9,"baseline":"bottom","frame":"group"},
"layer":[
{"data":{"name":"a2s"},"mark":{"type":"square","size":3,"color":"#444"},"encoding":{"x":{"field":"x","type":"quantitative","scale":{"domain":[0,262],"nice":false,"zero":false},"axis":{"orient":"bottom","values":[0,50,100,150,200,250],"tickSize":3,"labelPadding":0,"title":"FSC-A","titleY":38,"titleBaseline":"middle"}},"y":{"field":"y","type":"quantitative","scale":{"domain":[0,262],"nice":false,"zero":false},"axis":{"orient":"left","values":[0,50,100,150,200,250],"tickSize":3,"labelPadding":2,"title":"SSC-A","titleX":-54,"titleY":101.5,"titleAngle":270,"titleAlign":"center","titleBaseline":"middle"}}}},
{"data":{"name":"a2m"},"mark":{"type":"circle","size":8,"color":"#000","opacity":0.85},"encoding":{"x":{"field":"x","type":"quantitative","axis":null},"y":{"field":"y","type":"quantitative","axis":null}}},
{"data":{"name":"a2c"},"mark":{"type":"circle","size":60,"color":"#000","opacity":0.92},"encoding":{"x":{"field":"x","type":"quantitative","axis":null},"y":{"field":"y","type":"quantitative","axis":null}}},
{"data":{"name":"gA"},"mark":{"type":"line","color":"#333","strokeWidth":1},"encoding":{"x":{"field":"x","type":"quantitative","axis":{"orient":"bottom","values":[10,20,30,40,60,70,80,90,110,120,130,140,160,170,180,190,210,220,230,240,260],"tickSize":2,"labels":false,"title":"(x 10³)","titleX":194,"titleY":16,"titleAlign":"center","titleBaseline":"middle","titleFontSize":7.5}},"y":{"field":"y","type":"quantitative","axis":{"orient":"left","values":[10,20,30,40,60,70,80,90,110,120,130,140,160,170,180,190,210,220,230,240,260],"tickSize":2,"labels":false,"title":"(x 10³)","titleX":-31,"titleY":27,"titleAngle":270,"titleAlign":"center","titleBaseline":"middle","titleFontSize":7.5}},"order":{"field":"o","type":"quantitative"}}},
{"data":{"name":"lA"},"mark":{"type":"rect","color":"#9a9a9a","opacity":0.9,"cornerRadius":2},"encoding":{"x":{"field":"x1","type":"quantitative","axis":null},"x2":{"field":"x2"},"y":{"field":"y1","type":"quantitative","axis":null},"y2":{"field":"y2"}}},
{"data":{"name":"lA"},"mark":{"type":"text","font":"DejaVu Sans","fontSize":11,"color":"#333","baseline":"middle"},"encoding":{"x":{"field":"tx","type":"quantitative","axis":null},"y":{"field":"ty","type":"quantitative","axis":null},"text":{"field":"t"}}}
],"resolve":{"axis":{"x":"independent","y":"independent"}}},
{"width":204,"height":203,"title":{"text":"[A] SSC-H / SSC-W","font":"DejaVu Sans","fontSize":11.5,"fontWeight":"normal","color":"#000","offset":-9,"baseline":"bottom","frame":"group"},
"layer":[
{"data":{"name":"b2s"},"mark":{"type":"square","size":3,"color":"#444"},"encoding":{"x":{"field":"x","type":"quantitative","scale":{"domain":[0,262],"nice":false,"zero":false},"axis":{"orient":"bottom","values":[0,50,100,150,200,250],"tickSize":3,"labelPadding":0,"title":"SSC-H","titleY":38,"titleBaseline":"middle"}},"y":{"field":"y","type":"quantitative","scale":{"domain":[0,262],"nice":false,"zero":false},"axis":{"orient":"left","values":[0,50,100,150,200,250],"tickSize":3,"labelPadding":2,"title":"SSC-W","titleX":-49,"titleY":101.5,"titleAngle":270,"titleAlign":"center","titleBaseline":"middle"}}}},
{"data":{"name":"b2m"},"mark":{"type":"circle","size":8,"color":"#000","opacity":0.85},"encoding":{"x":{"field":"x","type":"quantitative","axis":null},"y":{"field":"y","type":"quantitative","axis":null}}},
{"data":{"name":"b2c"},"mark":{"type":"circle","size":42,"color":"#000","opacity":1},"encoding":{"x":{"field":"x","type":"quantitative","axis":null},"y":{"field":"y","type":"quantitative","axis":null}}},
{"data":{"name":"gB"},"mark":{"type":"rect","fillOpacity":0,"stroke":"#222","strokeWidth":1},"encoding":{"x":{"field":"x1","type":"quantitative","axis":{"orient":"bottom","values":[10,20,30,40,60,70,80,90,110,120,130,140,160,170,180,190,210,220,230,240,260],"tickSize":2,"labels":false,"title":"(x 10³)","titleX":194,"titleY":16,"titleAlign":"center","titleBaseline":"middle","titleFontSize":7.5}},"x2":{"field":"x2"},"y":{"field":"y1","type":"quantitative","axis":{"orient":"left","values":[10,20,30,40,60,70,80,90,110,120,130,140,160,170,180,190,210,220,230,240,260],"tickSize":2,"labels":false,"title":"(x 10³)","titleX":-31,"titleY":27,"titleAngle":270,"titleAlign":"center","titleBaseline":"middle","titleFontSize":7.5}},"y2":{"field":"y2"}}},
{"data":{"name":"lB"},"mark":{"type":"rect","color":"#cfcfcf","opacity":0.85,"cornerRadius":2},"encoding":{"x":{"field":"x1","type":"quantitative","axis":null},"x2":{"field":"x2"},"y":{"field":"y1","type":"quantitative","axis":null},"y2":{"field":"y2"}}},
{"data":{"name":"lB"},"mark":{"type":"text","font":"DejaVu Sans","fontSize":11,"color":"#222","baseline":"middle"},"encoding":{"x":{"field":"tx","type":"quantitative","axis":null},"y":{"field":"ty","type":"quantitative","axis":null},"text":{"field":"t"}}}
],"resolve":{"axis":{"x":"independent","y":"independent"}}},
{"width":204,"height":203,"title":{"text":"[B] Live Dead 510-A / SSC-A","font":"DejaVu Sans","fontSize":11.5,"fontWeight":"normal","color":"#000","offset":-9,"baseline":"bottom","frame":"group"},
"layer":[
{"data":{"name":"c2s"},"mark":{"type":"square","size":3,"color":"#444"},"encoding":{"x":{"field":"x","type":"quantitative","scale":{"domain":[1.087,5.418],"nice":false,"zero":false},"axis":{"orient":"bottom","values":[1.515,2,3.047,4.017,5],"labelExpr":"datum.value < 1.8 ? '0' : datum.value < 2.5 ? '10²' : datum.value < 3.5 ? '10³' : datum.value < 4.5 ? '10⁴' : '10⁵'","tickSize":3,"labelPadding":4,"title":"Live Dead 510-A","titleY":25,"titleBaseline":"middle"}},"y":{"field":"y","type":"quantitative","scale":{"domain":[0,262],"nice":false,"zero":false},"axis":{"orient":"left","values":[0,50,100,150,200,250],"tickSize":3,"labelPadding":2,"title":"SSC-A","titleX":-50,"titleY":101.5,"titleAngle":270,"titleAlign":"center","titleBaseline":"middle"}}}},
{"data":{"name":"c2m"},"mark":{"type":"circle","size":8,"color":"#000","opacity":0.85},"encoding":{"x":{"field":"x","type":"quantitative","axis":null},"y":{"field":"y","type":"quantitative","axis":null}}},
{"data":{"name":"c2c"},"mark":{"type":"circle","size":50,"color":"#000","opacity":1},"encoding":{"x":{"field":"x","type":"quantitative","axis":null},"y":{"field":"y","type":"quantitative","axis":null}}},
{"data":{"name":"gL"},"mark":{"type":"rect","fillOpacity":0,"stroke":"#222","strokeWidth":1},"encoding":{"x":{"field":"x1","type":"quantitative","axis":{"orient":"bottom","values":[1.293,1.752,2.315,2.499,2.63,2.732,2.815,2.885,2.946,2.999,3.339,3.51,3.631,3.725,3.802,3.867,3.923,3.972,4.313,4.486,4.609,4.704,4.782,4.848,4.905,4.955,5.296],"tickSize":2,"labels":false,"title":null}},"x2":{"field":"x2"},"y":{"field":"y1","type":"quantitative","axis":{"orient":"left","values":[10,20,30,40,60,70,80,90,110,120,130,140,160,170,180,190,210,220,230,240,260],"tickSize":2,"labels":false,"title":"(x 10³)","titleX":-31,"titleY":27,"titleAngle":270,"titleAlign":"center","titleBaseline":"middle","titleFontSize":7.5}},"y2":{"field":"y2"}}},
{"data":{"name":"lL2"},"mark":{"type":"rect","fill":"#fff","stroke":"#b4b4b4","strokeWidth":1,"cornerRadius":3},"encoding":{"x":{"field":"x1","type":"quantitative","axis":null},"x2":{"field":"x2"},"y":{"field":"y1","type":"quantitative","axis":null},"y2":{"field":"y2"}}},
{"data":{"name":"lL2"},"mark":{"type":"text","font":"DejaVu Sans","fontSize":11,"color":"#111","baseline":"middle"},"encoding":{"x":{"field":"tx","type":"quantitative","axis":null},"y":{"field":"ty","type":"quantitative","axis":null},"text":{"field":"t"}}}
],"resolve":{"axis":{"x":"independent","y":"independent"}}},
{"width":198,"height":203,"view":{"stroke":null},"title":{"text":"[Live] AFM13 / SSC-A","font":"DejaVu Sans","fontSize":11.5,"fontWeight":"normal","color":"#000","offset":-9,"baseline":"bottom","frame":"group","dx":3},
"layer":[
{"data":{"name":"d2s"},"mark":{"type":"square","size":3,"color":"#444"},"encoding":{"x":{"field":"x","type":"quantitative","scale":{"domain":[1.087,5.291],"nice":false,"zero":false},"axis":{"orient":"bottom","domain":true,"domainColor":"#000","values":[1.515,2,3.047,4.017,5],"labelExpr":"datum.value < 1.8 ? '0' : datum.value < 2.5 ? '10²' : datum.value < 3.5 ? '10³' : datum.value < 4.5 ? '10⁴' : '10⁵'","tickSize":3,"labelPadding":4,"title":"AFM13","titleX":102,"titleY":25,"titleBaseline":"middle"}},"y":{"field":"y","type":"quantitative","scale":{"domain":[0,262],"nice":false,"zero":false},"axis":{"orient":"left","domain":true,"domainColor":"#000","values":[0,50,100,150,200,250],"tickSize":3,"labelPadding":2,"title":"SSC-A","titleX":-51,"titleY":101.5,"titleAngle":270,"titleAlign":"center","titleBaseline":"middle"}}}},
{"data":{"name":"d2m"},"mark":{"type":"circle","size":8,"color":"#000","opacity":0.85},"encoding":{"x":{"field":"x","type":"quantitative","axis":{"orient":"top","domain":true,"domainColor":"#000","ticks":false,"labels":false,"title":null}},"y":{"field":"y","type":"quantitative","axis":null}}},
{"data":{"name":"d2c"},"mark":{"type":"circle","size":46,"color":"#000","opacity":1},"encoding":{"x":{"field":"x","type":"quantitative","axis":null},"y":{"field":"y","type":"quantitative","axis":null}}},
{"data":{"name":"gF"},"mark":{"type":"rect","fillOpacity":0,"stroke":"#222","strokeWidth":1},"encoding":{"x":{"field":"x1","type":"quantitative","axis":{"orient":"bottom","values":[1.293,1.752,2.315,2.499,2.63,2.732,2.815,2.885,2.946,2.999,3.339,3.51,3.631,3.725,3.802,3.867,3.923,3.972,4.313,4.486,4.609,4.704,4.782,4.848,4.905,4.955],"tickSize":2,"labels":false,"title":null}},"x2":{"field":"x2"},"y":{"field":"y1","type":"quantitative","axis":{"orient":"left","values":[10,20,30,40,60,70,80,90,110,120,130,140,160,170,180,190,210,220,230,240,260],"tickSize":2,"labels":false,"title":"(x 10³)","titleX":-31,"titleY":27,"titleAngle":270,"titleAlign":"center","titleBaseline":"middle","titleFontSize":7.5}},"y2":{"field":"y2"}}},
{"data":{"name":"lF2"},"mark":{"type":"rect","fill":"#fff","stroke":"#b4b4b4","strokeWidth":1,"cornerRadius":3,"clip":true},"encoding":{"x":{"field":"x1","type":"quantitative","axis":null},"x2":{"field":"x2"},"y":{"field":"y1","type":"quantitative","axis":null},"y2":{"field":"y2"}}},
{"data":{"name":"lF2"},"mark":{"type":"text","font":"DejaVu Sans","fontSize":11,"color":"#111","baseline":"middle","align":"left","clip":true},"encoding":{"x":{"field":"tx","type":"quantitative","axis":null},"y":{"field":"ty","type":"quantitative","axis":null},"text":{"field":"t"}}}
],"resolve":{"axis":{"x":"independent","y":"independent"}}}
]},
{"title":{"text":"Karpas 299 com AFM13 e não lavadas","anchor":"start","font":"Open Sans","fontSize":29,"fontWeight":"normal","color":"#000","offset":-14,"dx":60,"baseline":"bottom"},"bounds":"flush","spacing":75,
"hconcat":[
{"width":204,"height":197,"title":{"text":"[Ungated] FSC-A / SSC-A","font":"DejaVu Sans","fontSize":11.5,"fontWeight":"normal","color":"#000","offset":-9,"baseline":"bottom","frame":"group"},
"layer":[
{"data":{"name":"a3s"},"mark":{"type":"square","size":3,"color":"#444"},"encoding":{"x":{"field":"x","type":"quantitative","scale":{"domain":[0,262],"nice":false,"zero":false},"axis":{"orient":"bottom","values":[0,50,100,150,200,250],"tickSize":3,"labelPadding":3,"title":"FSC-A","titleY":36,"titleBaseline":"middle"}},"y":{"field":"y","type":"quantitative","scale":{"domain":[0,262],"nice":false,"zero":false},"axis":{"orient":"left","values":[0,50,100,150,200,250],"tickSize":3,"labelPadding":2,"title":"SSC-A","titleX":-48,"titleY":98.5,"titleAngle":270,"titleAlign":"center","titleBaseline":"middle"}}}},
{"data":{"name":"a3m"},"mark":{"type":"circle","size":8,"color":"#000","opacity":0.85},"encoding":{"x":{"field":"x","type":"quantitative","axis":null},"y":{"field":"y","type":"quantitative","axis":null}}},
{"data":{"name":"a3c"},"mark":{"type":"circle","size":60,"color":"#000","opacity":0.92},"encoding":{"x":{"field":"x","type":"quantitative","axis":null},"y":{"field":"y","type":"quantitative","axis":null}}},
{"data":{"name":"gA"},"mark":{"type":"line","color":"#333","strokeWidth":1},"encoding":{"x":{"field":"x","type":"quantitative","axis":{"orient":"bottom","values":[10,20,30,40,60,70,80,90,110,120,130,140,160,170,180,190,210,220,230,240,260],"tickSize":2,"labels":false,"title":"(x 10³)","titleX":194,"titleY":20,"titleAlign":"center","titleBaseline":"middle","titleFontSize":7.5}},"y":{"field":"y","type":"quantitative","axis":{"orient":"left","values":[10,20,30,40,60,70,80,90,110,120,130,140,160,170,180,190,210,220,230,240,260],"tickSize":2,"labels":false,"title":"(x 10³)","titleX":-31,"titleY":29,"titleAngle":270,"titleAlign":"center","titleBaseline":"middle","titleFontSize":7.5}},"order":{"field":"o","type":"quantitative"}}},
{"data":{"name":"lA"},"mark":{"type":"rect","color":"#9a9a9a","opacity":0.9,"cornerRadius":2},"encoding":{"x":{"field":"x1","type":"quantitative","axis":null},"x2":{"field":"x2"},"y":{"field":"y1","type":"quantitative","axis":null},"y2":{"field":"y2"}}},
{"data":{"name":"lA"},"mark":{"type":"text","font":"DejaVu Sans","fontSize":11,"color":"#333","baseline":"middle"},"encoding":{"x":{"field":"tx","type":"quantitative","axis":null},"y":{"field":"ty","type":"quantitative","axis":null},"text":{"field":"t"}}}
],"resolve":{"axis":{"x":"independent","y":"independent"}}},
{"width":204,"height":197,"title":{"text":"[A] SSC-H / SSC-W","font":"DejaVu Sans","fontSize":11.5,"fontWeight":"normal","color":"#000","offset":-9,"baseline":"bottom","frame":"group"},
"layer":[
{"data":{"name":"b3s"},"mark":{"type":"square","size":3,"color":"#444"},"encoding":{"x":{"field":"x","type":"quantitative","scale":{"domain":[0,262],"nice":false,"zero":false},"axis":{"orient":"bottom","values":[0,50,100,150,200,250],"tickSize":3,"labelPadding":3,"title":"SSC-H","titleY":36,"titleBaseline":"middle"}},"y":{"field":"y","type":"quantitative","scale":{"domain":[0,262],"nice":false,"zero":false},"axis":{"orient":"left","values":[0,50,100,150,200,250],"tickSize":3,"labelPadding":2,"title":"SSC-W","titleX":-50,"titleY":98.5,"titleAngle":270,"titleAlign":"center","titleBaseline":"middle"}}}},
{"data":{"name":"b3m"},"mark":{"type":"circle","size":8,"color":"#000","opacity":0.85},"encoding":{"x":{"field":"x","type":"quantitative","axis":null},"y":{"field":"y","type":"quantitative","axis":null}}},
{"data":{"name":"b3c"},"mark":{"type":"circle","size":42,"color":"#000","opacity":1},"encoding":{"x":{"field":"x","type":"quantitative","axis":null},"y":{"field":"y","type":"quantitative","axis":null}}},
{"data":{"name":"gB"},"mark":{"type":"rect","fillOpacity":0,"stroke":"#222","strokeWidth":1},"encoding":{"x":{"field":"x1","type":"quantitative","axis":{"orient":"bottom","values":[10,20,30,40,60,70,80,90,110,120,130,140,160,170,180,190,210,220,230,240,260],"tickSize":2,"labels":false,"title":"(x 10³)","titleX":194,"titleY":20,"titleAlign":"center","titleBaseline":"middle","titleFontSize":7.5}},"x2":{"field":"x2"},"y":{"field":"y1","type":"quantitative","axis":{"orient":"left","values":[10,20,30,40,60,70,80,90,110,120,130,140,160,170,180,190,210,220,230,240,260],"tickSize":2,"labels":false,"title":"(x 10³)","titleX":-31,"titleY":29,"titleAngle":270,"titleAlign":"center","titleBaseline":"middle","titleFontSize":7.5}},"y2":{"field":"y2"}}},
{"data":{"name":"lB"},"mark":{"type":"rect","color":"#cfcfcf","opacity":0.85,"cornerRadius":2},"encoding":{"x":{"field":"x1","type":"quantitative","axis":null},"x2":{"field":"x2"},"y":{"field":"y1","type":"quantitative","axis":null},"y2":{"field":"y2"}}},
{"data":{"name":"lB"},"mark":{"type":"text","font":"DejaVu Sans","fontSize":11,"color":"#222","baseline":"middle"},"encoding":{"x":{"field":"tx","type":"quantitative","axis":null},"y":{"field":"ty","type":"quantitative","axis":null},"text":{"field":"t"}}}
],"resolve":{"axis":{"x":"independent","y":"independent"}}},
{"width":204,"height":197,"title":{"text":"[B] Live Dead 510-A / SSC-A","font":"DejaVu Sans","fontSize":11.5,"fontWeight":"normal","color":"#000","offset":-9,"baseline":"bottom","frame":"group"},
"layer":[
{"data":{"name":"c3s"},"mark":{"type":"square","size":3,"color":"#444"},"encoding":{"x":{"field":"x","type":"quantitative","scale":{"domain":[1.087,5.418],"nice":false,"zero":false},"axis":{"orient":"bottom","values":[1.515,2,3.047,4.017,5],"labelExpr":"datum.value < 1.8 ? '0' : datum.value < 2.5 ? '10²' : datum.value < 3.5 ? '10³' : datum.value < 4.5 ? '10⁴' : '10⁵'","tickSize":3,"labelPadding":5,"title":"Live Dead 510-A","titleY":33,"titleBaseline":"middle"}},"y":{"field":"y","type":"quantitative","scale":{"domain":[0,262],"nice":false,"zero":false},"axis":{"orient":"left","values":[0,50,100,150,200,250],"tickSize":3,"labelPadding":2,"title":"SSC-A","titleX":-52,"titleY":98.5,"titleAngle":270,"titleAlign":"center","titleBaseline":"middle"}}}},
{"data":{"name":"c3m"},"mark":{"type":"circle","size":8,"color":"#000","opacity":0.85},"encoding":{"x":{"field":"x","type":"quantitative","axis":null},"y":{"field":"y","type":"quantitative","axis":null}}},
{"data":{"name":"c3c"},"mark":{"type":"circle","size":50,"color":"#000","opacity":1},"encoding":{"x":{"field":"x","type":"quantitative","axis":null},"y":{"field":"y","type":"quantitative","axis":null}}},
{"data":{"name":"gL"},"mark":{"type":"rect","fillOpacity":0,"stroke":"#222","strokeWidth":1},"encoding":{"x":{"field":"x1","type":"quantitative","axis":{"orient":"bottom","values":[1.293,1.752,2.315,2.499,2.63,2.732,2.815,2.885,2.946,2.999,3.339,3.51,3.631,3.725,3.802,3.867,3.923,3.972,4.313,4.486,4.609,4.704,4.782,4.848,4.905,4.955,5.296],"tickSize":2,"labels":false,"title":null}},"x2":{"field":"x2"},"y":{"field":"y1","type":"quantitative","axis":{"orient":"left","values":[10,20,30,40,60,70,80,90,110,120,130,140,160,170,180,190,210,220,230,240,260],"tickSize":2,"labels":false,"title":"(x 10³)","titleX":-31,"titleY":29,"titleAngle":270,"titleAlign":"center","titleBaseline":"middle","titleFontSize":7.5}},"y2":{"field":"y2"}}},
{"data":{"name":"lL3"},"mark":{"type":"rect","fill":"#fff","stroke":"#b4b4b4","strokeWidth":1,"cornerRadius":3},"encoding":{"x":{"field":"x1","type":"quantitative","axis":null},"x2":{"field":"x2"},"y":{"field":"y1","type":"quantitative","axis":null},"y2":{"field":"y2"}}},
{"data":{"name":"lL3"},"mark":{"type":"text","font":"DejaVu Sans","fontSize":11,"color":"#111","baseline":"middle"},"encoding":{"x":{"field":"tx","type":"quantitative","axis":null},"y":{"field":"ty","type":"quantitative","axis":null},"text":{"field":"t"}}}
],"resolve":{"axis":{"x":"independent","y":"independent"}}},
{"width":194,"height":197,"view":{"stroke":null},"title":{"text":"[Live] AFM13 / SSC-A","font":"DejaVu Sans","fontSize":11.5,"fontWeight":"normal","color":"#000","offset":-9,"baseline":"bottom","frame":"group","dx":5},
"layer":[
{"data":{"name":"d3s"},"mark":{"type":"square","size":3,"color":"#444"},"encoding":{"x":{"field":"x","type":"quantitative","scale":{"domain":[1.087,5.206],"nice":false,"zero":false},"axis":{"orient":"bottom","domain":true,"domainColor":"#000","values":[1.515,2,3.047,4.017,5],"labelExpr":"datum.value < 1.8 ? '0' : datum.value < 2.5 ? '10²' : datum.value < 3.5 ? '10³' : datum.value < 4.5 ? '10⁴' : '10⁵'","tickSize":3,"labelPadding":5,"title":"AFM13","titleX":102,"titleY":33,"titleBaseline":"middle"}},"y":{"field":"y","type":"quantitative","scale":{"domain":[0,262],"nice":false,"zero":false},"axis":{"orient":"left","domain":true,"domainColor":"#000","values":[0,50,100,150,200,250],"tickSize":3,"labelPadding":2,"title":"SSC-A","titleX":-49,"titleY":98.5,"titleAngle":270,"titleAlign":"center","titleBaseline":"middle"}}}},
{"data":{"name":"d3m"},"mark":{"type":"circle","size":8,"color":"#000","opacity":0.85},"encoding":{"x":{"field":"x","type":"quantitative","axis":{"orient":"top","domain":true,"domainColor":"#000","ticks":false,"labels":false,"title":null}},"y":{"field":"y","type":"quantitative","axis":null}}},
{"data":{"name":"d3c"},"mark":{"type":"circle","size":46,"color":"#000","opacity":1},"encoding":{"x":{"field":"x","type":"quantitative","axis":null},"y":{"field":"y","type":"quantitative","axis":null}}},
{"data":{"name":"gF"},"mark":{"type":"rect","fillOpacity":0,"stroke":"#222","strokeWidth":1},"encoding":{"x":{"field":"x1","type":"quantitative","axis":{"orient":"bottom","values":[1.293,1.752,2.315,2.499,2.63,2.732,2.815,2.885,2.946,2.999,3.339,3.51,3.631,3.725,3.802,3.867,3.923,3.972,4.313,4.486,4.609,4.704,4.782,4.848,4.905,4.955],"tickSize":2,"labels":false,"title":null}},"x2":{"field":"x2"},"y":{"field":"y1","type":"quantitative","axis":{"orient":"left","values":[10,20,30,40,60,70,80,90,110,120,130,140,160,170,180,190,210,220,230,240,260],"tickSize":2,"labels":false,"title":"(x 10³)","titleX":-31,"titleY":29,"titleAngle":270,"titleAlign":"center","titleBaseline":"middle","titleFontSize":7.5}},"y2":{"field":"y2"}}},
{"data":{"name":"lF3"},"mark":{"type":"rect","fill":"#fff","stroke":"#b4b4b4","strokeWidth":1,"cornerRadius":3,"clip":true},"encoding":{"x":{"field":"x1","type":"quantitative","axis":null},"x2":{"field":"x2"},"y":{"field":"y1","type":"quantitative","axis":null},"y2":{"field":"y2"}}},
{"data":{"name":"lF3"},"mark":{"type":"text","font":"DejaVu Sans","fontSize":11,"color":"#111","baseline":"middle","align":"left","clip":true},"encoding":{"x":{"field":"tx","type":"quantitative","axis":null},"y":{"field":"ty","type":"quantitative","axis":null},"text":{"field":"t"}}}
],"resolve":{"axis":{"x":"independent","y":"independent"}}}
]}
],"spacing":22}
